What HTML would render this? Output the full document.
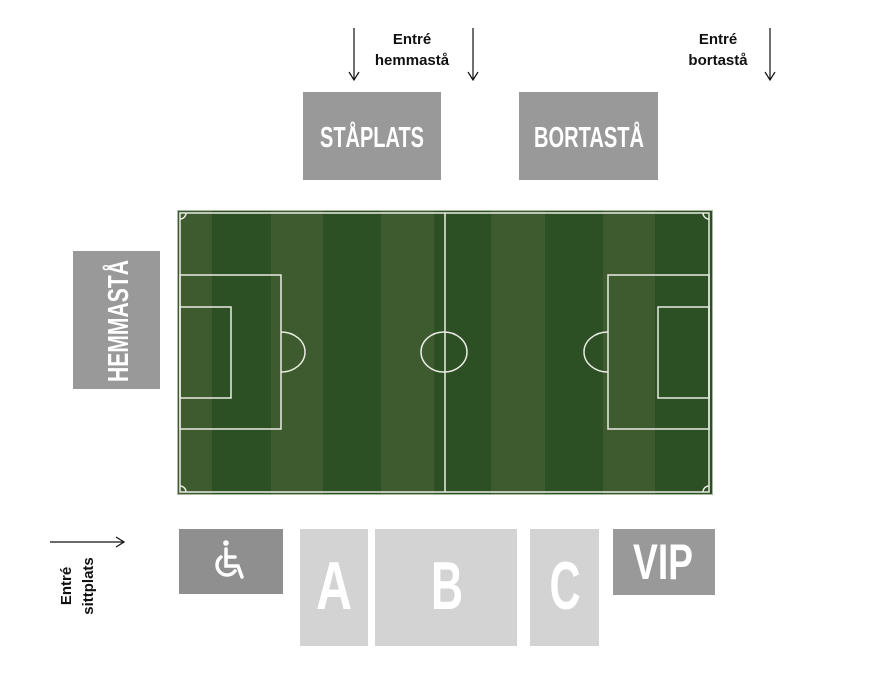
<!DOCTYPE html>
<html><head><meta charset="utf-8"><style>
html,body{margin:0;padding:0;background:#fff;}
svg{display:block;}
.c{font-family:"Liberation Sans Narrow","Liberation Sans",sans-serif;font-weight:bold;fill:#fff;}
.s{font-family:"Liberation Sans",sans-serif;font-weight:bold;fill:#111;font-size:15px;}
</style></head><body>
<svg width="871" height="681" viewBox="0 0 871 681" xmlns="http://www.w3.org/2000/svg">
<defs>
<marker id="ar" markerWidth="12" markerHeight="12" refX="11" refY="6" orient="auto" markerUnits="userSpaceOnUse"><path d="M3,1 L11,6 L3,11" fill="none" stroke="#111" stroke-width="1.2"/></marker></defs>

<line x1="354" y1="28" x2="354" y2="80" stroke="#111" stroke-width="1.2" marker-end="url(#ar)"/>
<line x1="473" y1="28" x2="473" y2="80" stroke="#111" stroke-width="1.2" marker-end="url(#ar)"/>
<line x1="770" y1="28" x2="770" y2="80" stroke="#111" stroke-width="1.2" marker-end="url(#ar)"/>
<text class="s" x="412" y="44" text-anchor="middle">Entré</text>
<text class="s" x="412" y="65" text-anchor="middle">hemmastå</text>
<text class="s" x="718" y="44" text-anchor="middle">Entré</text>
<text class="s" x="718" y="65" text-anchor="middle">bortastå</text>

<rect x="303" y="92" width="138" height="88" fill="#999"/>
<text class="c" x="372" y="147" text-anchor="middle" font-size="29" textLength="104" lengthAdjust="spacingAndGlyphs">STÅPLATS</text>
<rect x="519" y="92" width="139" height="88" fill="#999"/>
<text class="c" x="589" y="147" text-anchor="middle" font-size="29" textLength="110" lengthAdjust="spacingAndGlyphs">BORTASTÅ</text>

<rect x="73" y="251" width="87" height="138" fill="#999"/>
<text class="c" transform="translate(128,321) rotate(-90)" x="0" y="0" text-anchor="middle" font-size="29" textLength="122" lengthAdjust="spacingAndGlyphs">HEMMASTÅ</text>

<rect x="177" y="210" width="536" height="285" fill="#2d4f24"/>
<g fill="#3e5a2f">
<rect x="177" y="210" width="35" height="285"/>
<rect x="271" y="210" width="52" height="285"/>
<rect x="381" y="210" width="53" height="285"/>
<rect x="491" y="210" width="54" height="285"/>
<rect x="603" y="210" width="52" height="285"/>
</g>
<rect x="177.5" y="210.5" width="535" height="284" fill="none" stroke="#a9b8a0" stroke-width="1"/>
<g fill="none" stroke="#e8ebe2" stroke-width="1.5">
<rect x="180" y="213" width="529" height="279"/>
<line x1="445" y1="213" x2="445" y2="492"/>
<ellipse cx="444" cy="352" rx="23" ry="20"/>
<rect x="180" y="275" width="101" height="154"/>
<rect x="180" y="307" width="51" height="91"/>
<path d="M281,332 A24,20 0 0 1 281,372"/>
<rect x="608" y="275" width="101" height="154"/>
<rect x="658" y="307" width="51" height="91"/>
<path d="M608,332 A24,20 0 0 0 608,372"/>
<path d="M180,219 A6,6 0 0 0 186,213"/>
<path d="M703,213 A6,6 0 0 0 709,219"/>
<path d="M180,486 A6,6 0 0 1 186,492"/>
<path d="M709,486 A6,6 0 0 0 703,492"/>
</g>

<line x1="50" y1="542" x2="124" y2="542" stroke="#111" stroke-width="1.2" marker-end="url(#ar)"/>
<text class="s" transform="translate(71,586) rotate(-90)" text-anchor="middle" x="0" y="0">Entré</text>
<text class="s" transform="translate(93,586) rotate(-90)" text-anchor="middle" x="0" y="0">sittplats</text>

<rect x="179" y="529" width="104" height="65" fill="#8f8f8f"/>
<g fill="none" stroke="#fff" stroke-width="3.5" stroke-linecap="round">
<circle cx="226" cy="543" r="2.8" fill="#fff" stroke="none"/>
<path d="M226,549 L226,566 L238,566 L242,577"/>
<path d="M226,557 L235,557"/>
<path d="M221,557 A10,10 0 1 0 235,571"/>
</g>

<rect x="300" y="529" width="68" height="117" fill="#d3d3d3"/>
<rect x="375" y="529" width="142" height="117" fill="#d3d3d3"/>
<rect x="530" y="529" width="69" height="117" fill="#d3d3d3"/>
<text class="c" x="334" y="609" text-anchor="middle" font-size="68" textLength="36" lengthAdjust="spacingAndGlyphs">A</text>
<text class="c" x="447" y="609" text-anchor="middle" font-size="68" textLength="32" lengthAdjust="spacingAndGlyphs">B</text>
<text class="c" x="565" y="609" text-anchor="middle" font-size="68" textLength="31" lengthAdjust="spacingAndGlyphs">C</text>

<rect x="613" y="529" width="102" height="66" fill="#999"/>
<text class="c" x="663" y="579" text-anchor="middle" font-size="50" textLength="60" lengthAdjust="spacingAndGlyphs">VIP</text>
</svg>
</body></html>
